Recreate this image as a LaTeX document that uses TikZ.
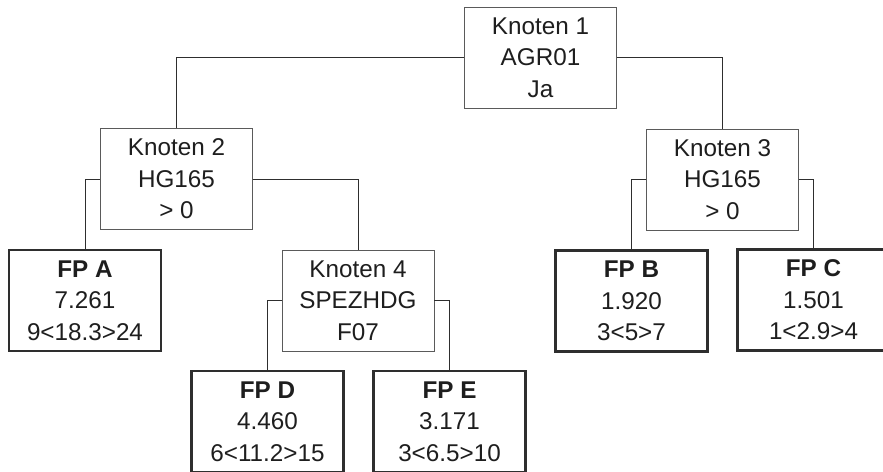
\documentclass[tikz,border=0pt]{standalone}
\usepackage{fontspec}
\setmainfont{Liberation Sans}
\usepackage{tikz}
\usetikzlibrary{positioning}
\definecolor{txtgray}{HTML}{1E1E1E}
\definecolor{linegray}{HTML}{5A5A5A}
\definecolor{leafgray}{HTML}{2E2E2E}
\begin{document}
\begin{tikzpicture}[box/.style={draw=linegray,line width=0.55pt,align=center,minimum width=3.04cm,minimum height=2.02cm,inner sep=0pt,text=txtgray,font=\fontsize{13.8}{18}\selectfont,execute at begin node={\rule{0pt}{0.5cm}}},leaf/.style={box,draw=leafgray,line width=1.4pt},conn/.style={draw=leafgray,line width=0.55pt}]
\useasboundingbox (0,0) rectangle (17.66,-9.44);
\fill[white] (0,0) rectangle (17.66,-9.44);
\node[box] (k1) at (10.81,-1.15) {Knoten 1\\AGR01\\Ja};
\node[box] (k2) at (3.53,-3.58) {Knoten 2\\HG165\\> 0};
\node[box] (k3) at (14.45,-3.59) {Knoten 3\\HG165\\> 0};
\node[leaf] (fpa) at (1.70,-6.01) {\textbf{FP A}\\7.261\\9<18.3>24};
\node[box] (k4) at (7.16,-6.01) {Knoten 4\\SPEZHDG\\F07};
\node[leaf] (fpb) at (12.63,-6.02) {\textbf{FP B}\\1.920\\3<5>7};
\node[leaf] (fpc) at (16.27,-6.00) {\textbf{FP C}\\1.501\\1<2.9>4};
\node[leaf] (fpd) at (5.35,-8.43) {\textbf{FP D}\\4.460\\6<11.2>15};
\node[leaf] (fpe) at (8.99,-8.43) {\textbf{FP E}\\3.171\\3<6.5>10};
\draw[conn] (k1.west) -| (k2.north);
\draw[conn] (k1.east) -| (k3.north);
\draw[conn] (k2.west) -| (fpa.north);
\draw[conn] (k2.east) -| (k4.north);
\draw[conn] (k3.west) -| (fpb.north);
\draw[conn] (k3.east) -| (fpc.north);
\draw[conn] (k4.west) -| (fpd.north);
\draw[conn] (k4.east) -| (fpe.north);
\end{tikzpicture}
\end{document}
